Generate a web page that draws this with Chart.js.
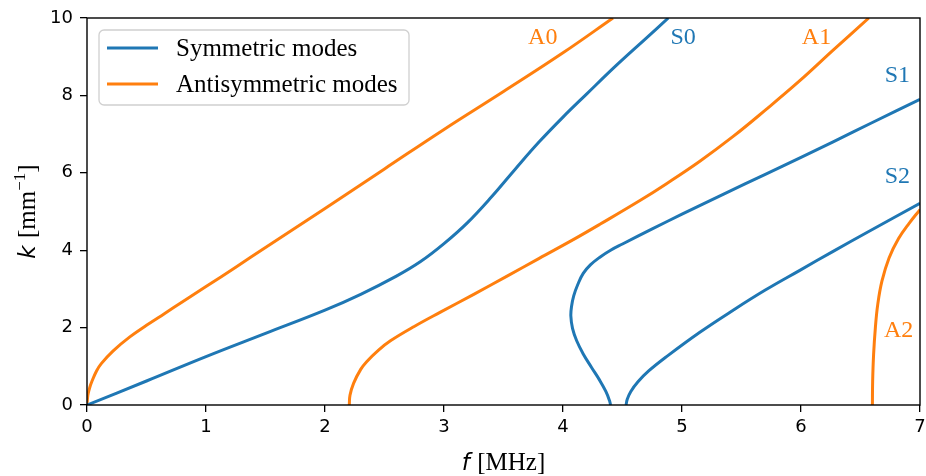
<!DOCTYPE html>
<html>
<head>
<meta charset="utf-8">
<script src="https://cdn.jsdelivr.net/npm/chart.js@4"></script>
<style>
  body { margin: 0; background: #fff; }
</style>
</head>
<body>
<canvas id="lambChart" width="926" height="476"></canvas>
<script>
// dispersion curves, f in MHz, k in 1/mm
const s0F = [0, 0.5, 1.0, 1.5, 2.0, 2.3, 2.6, 2.8, 3.0, 3.2, 3.4, 3.6, 3.8, 4.0, 4.2, 4.45, 4.7, 4.885];
const s0K = [0, 0.62, 1.25, 1.85, 2.45, 2.86, 3.33, 3.7, 4.17, 4.72, 5.38, 6.1, 6.8, 7.44, 8.04, 8.78, 9.48, 10.0];

const s1F = [4.40, 4.39, 4.36, 4.31, 4.24, 4.17, 4.115, 4.08, 4.066, 4.072, 4.09, 4.125, 4.17, 4.23, 4.31, 4.4, 4.5, 4.75, 5.0, 5.35, 5.7, 6.0, 6.27, 6.6, 7.0];
const s1K = [0, 0.12, 0.35, 0.63, 0.97, 1.32, 1.66, 1.98, 2.3, 2.55, 2.82, 3.12, 3.40, 3.62, 3.82, 4.0, 4.16, 4.55, 4.93, 5.45, 5.96, 6.4, 6.8, 7.3, 7.9];

const s2F = [4.53, 4.54, 4.57, 4.63, 4.72, 4.87, 5.15, 5.43, 5.7, 5.99, 6.27, 6.55, 7.0];
const s2K = [0, 0.15, 0.35, 0.6, 0.88, 1.25, 1.88, 2.45, 2.97, 3.48, 3.97, 4.45, 5.21];

const a0F = [0, 0.005, 0.01, 0.025, 0.04, 0.08, 0.12, 0.22, 0.36, 0.5, 0.65, 0.8, 1.0, 1.25, 1.5, 2.0, 2.5, 3.0, 3.5, 4.0, 4.42];
const a0K = [0, 0.2, 0.3, 0.47, 0.6, 0.88, 1.07, 1.40, 1.76, 2.06, 2.36, 2.66, 3.06, 3.56, 4.07, 5.08, 6.1, 7.12, 8.1, 9.1, 10.0];

const a1F = [2.204, 2.21, 2.24, 2.3, 2.35, 2.45, 2.55, 2.75, 2.97, 3.25, 3.53, 3.8, 4.09, 4.31, 4.65, 4.87, 5.15, 5.43, 5.7, 5.99, 6.27, 6.57];
const a1K = [0, 0.25, 0.56, 0.92, 1.12, 1.42, 1.66, 2.03, 2.4, 2.86, 3.33, 3.79, 4.28, 4.67, 5.29, 5.72, 6.3, 6.94, 7.62, 8.38, 9.17, 10.0];

const a2F = [6.60, 6.602, 6.61, 6.625, 6.645, 6.68, 6.74, 6.82, 6.91, 7.0];
const a2K = [0, 0.6, 1.3, 2.0, 2.6, 3.2, 3.8, 4.3, 4.7, 5.05];

const xTicks = [0, 1, 2, 3, 4, 5, 6, 7];
const yTicks = [0, 2, 4, 6, 8, 10];

const legendLabels = ["Symmetric modes", "Antisymmetric modes"];

// mode name labels placed in data coordinates
const modeNames = ["A0", "S0", "A1", "S1", "S2", "A2"];
const modeLabelF = [3.83, 5.01, 6.13, 6.81, 6.81, 6.82];
const modeLabelK = [9.48, 9.48, 9.48, 8.5, 5.89, 1.91];

const blue = "#1f77b4";
const orange = "#ff7f0e";
const modeColors = [orange, blue, orange, blue, blue, orange];

function pts(fs, ks) {
  return fs.map((f, i) => ({ x: f, y: ks[i] }));
}

function line(label, fs, ks, color) {
  return {
    label: label,
    data: pts(fs, ks),
    borderColor: color,
    backgroundColor: color,
    borderWidth: 3,
    pointRadius: 0,
    tension: 0.4,
    fill: false,
  };
}

const serif = '"Liberation Serif", "DejaVu Serif", serif';
const sans = '"DejaVu Sans", sans-serif';

const extras = {
  id: "extras",
  afterDatasetsDraw(chart) {
    const ctx = chart.ctx;
    const a = chart.chartArea;
    const xs = chart.scales.x;
    const ys = chart.scales.y;
    ctx.save();

    // frame
    ctx.strokeStyle = "#000";
    ctx.lineWidth = 1.4;
    ctx.strokeRect(a.left, a.top, a.right - a.left, a.bottom - a.top);

    // mode labels
    ctx.font = "24px " + serif;
    ctx.textAlign = "center";
    ctx.textBaseline = "middle";
    modeNames.forEach((n, i) => {
      ctx.fillStyle = modeColors[i];
      ctx.fillText(n, xs.getPixelForValue(modeLabelF[i]), ys.getPixelForValue(modeLabelK[i]));
    });

    // legend box
    const lx = a.left + 12, ly = a.top + 12, lw = 310, lh = 75, r = 5;
    ctx.beginPath();
    ctx.moveTo(lx + r, ly);
    ctx.arcTo(lx + lw, ly, lx + lw, ly + lh, r);
    ctx.arcTo(lx + lw, ly + lh, lx, ly + lh, r);
    ctx.arcTo(lx, ly + lh, lx, ly, r);
    ctx.arcTo(lx, ly, lx + lw, ly, r);
    ctx.closePath();
    ctx.fillStyle = "rgba(255,255,255,0.8)";
    ctx.fill();
    ctx.strokeStyle = "#d0d0d0";
    ctx.lineWidth = 1.3;
    ctx.stroke();

    const lcol = [blue, orange];
    legendLabels.forEach((t, i) => {
      const yy = ly + 18 + i * 36;
      ctx.strokeStyle = lcol[i];
      ctx.lineWidth = 3;
      ctx.beginPath();
      ctx.moveTo(lx + 8, yy);
      ctx.lineTo(lx + 59, yy);
      ctx.stroke();
      ctx.fillStyle = "#000";
      ctx.font = "25px " + serif;
      ctx.textAlign = "left";
      ctx.textBaseline = "middle";
      ctx.fillText(t, lx + 77, yy + 1);
    });

    // x axis title: f [MHz]
    const cx = (a.left + a.right) / 2;
    ctx.fillStyle = "#000";
    ctx.textBaseline = "alphabetic";
    ctx.font = "italic 23px " + sans;
    const fW = ctx.measureText("f ").width;
    ctx.font = "25px " + serif;
    const mW = ctx.measureText("[MHz]").width;
    let sx = cx - (fW + mW) / 2;
    ctx.textAlign = "left";
    ctx.font = "italic 23px " + sans;
    ctx.fillText("f", sx, 470);
    ctx.font = "25px " + serif;
    ctx.fillText("[MHz]", sx + fW, 470);

    // y axis title: k [mm^-1]
    ctx.translate(35, (a.top + a.bottom) / 2);
    ctx.rotate(-Math.PI / 2);
    ctx.font = "italic 23px " + sans;
    const kW = ctx.measureText("k ").width;
    ctx.font = "25px " + serif;
    const b1 = ctx.measureText("[mm").width;
    ctx.font = "17px " + serif;
    const supW = ctx.measureText("\u22121").width;
    ctx.font = "25px " + serif;
    const b2 = ctx.measureText("]").width;
    let tx = -(kW + b1 + supW + b2) / 2;
    ctx.font = "italic 23px " + sans;
    ctx.fillText("k", tx, 0);
    tx += kW;
    ctx.font = "25px " + serif;
    ctx.fillText("[mm", tx, 0);
    tx += b1;
    ctx.font = "17px " + serif;
    ctx.fillText("\u22121", tx, -10);
    tx += supW;
    ctx.font = "25px " + serif;
    ctx.fillText("]", tx, 0);

    ctx.restore();
  },
};

const chart = new Chart(document.getElementById("lambChart"), {
  type: "line",
  data: {
    datasets: [
      line("S0", s0F, s0K, blue),
      line("S1", s1F, s1K, blue),
      line("S2", s2F, s2K, blue),
      line("A0", a0F, a0K, orange),
      line("A1", a1F, a1K, orange),
      line("A2", a2F, a2K, orange),
    ],
  },
  options: {
    responsive: false,
    animation: false,
    devicePixelRatio: 1,
    layout: { padding: { top: 18, right: 6, left: 0, bottom: 0 } },
    plugins: { legend: { display: false }, tooltip: { enabled: false } },
    scales: {
      x: {
        type: "linear",
        min: 0,
        max: 7,
        afterFit: (s) => { s.height = 71; s.paddingLeft = 0; s.paddingRight = 0; },
        afterBuildTicks: (s) => { s.ticks = xTicks.map((v) => ({ value: v })); },
        border: { display: false },
        grid: { drawOnChartArea: false, drawTicks: true, tickLength: 7, color: "#000", lineWidth: 1.3 },
        ticks: { color: "#000", font: { family: sans, size: 18 }, padding: 5, maxRotation: 0 },
      },
      y: {
        type: "linear",
        min: 0,
        max: 10,
        afterFit: (s) => { s.width = 87; s.paddingTop = 0; s.paddingBottom = 0; },
        afterBuildTicks: (s) => { s.ticks = yTicks.map((v) => ({ value: v })); },
        border: { display: false },
        grid: { drawOnChartArea: false, drawTicks: true, tickLength: 7, color: "#000", lineWidth: 1.3 },
        ticks: { color: "#000", font: { family: sans, size: 18 }, padding: 7 },
      },
    },
  },
  plugins: [extras],
});
</script>
</body>
</html>
